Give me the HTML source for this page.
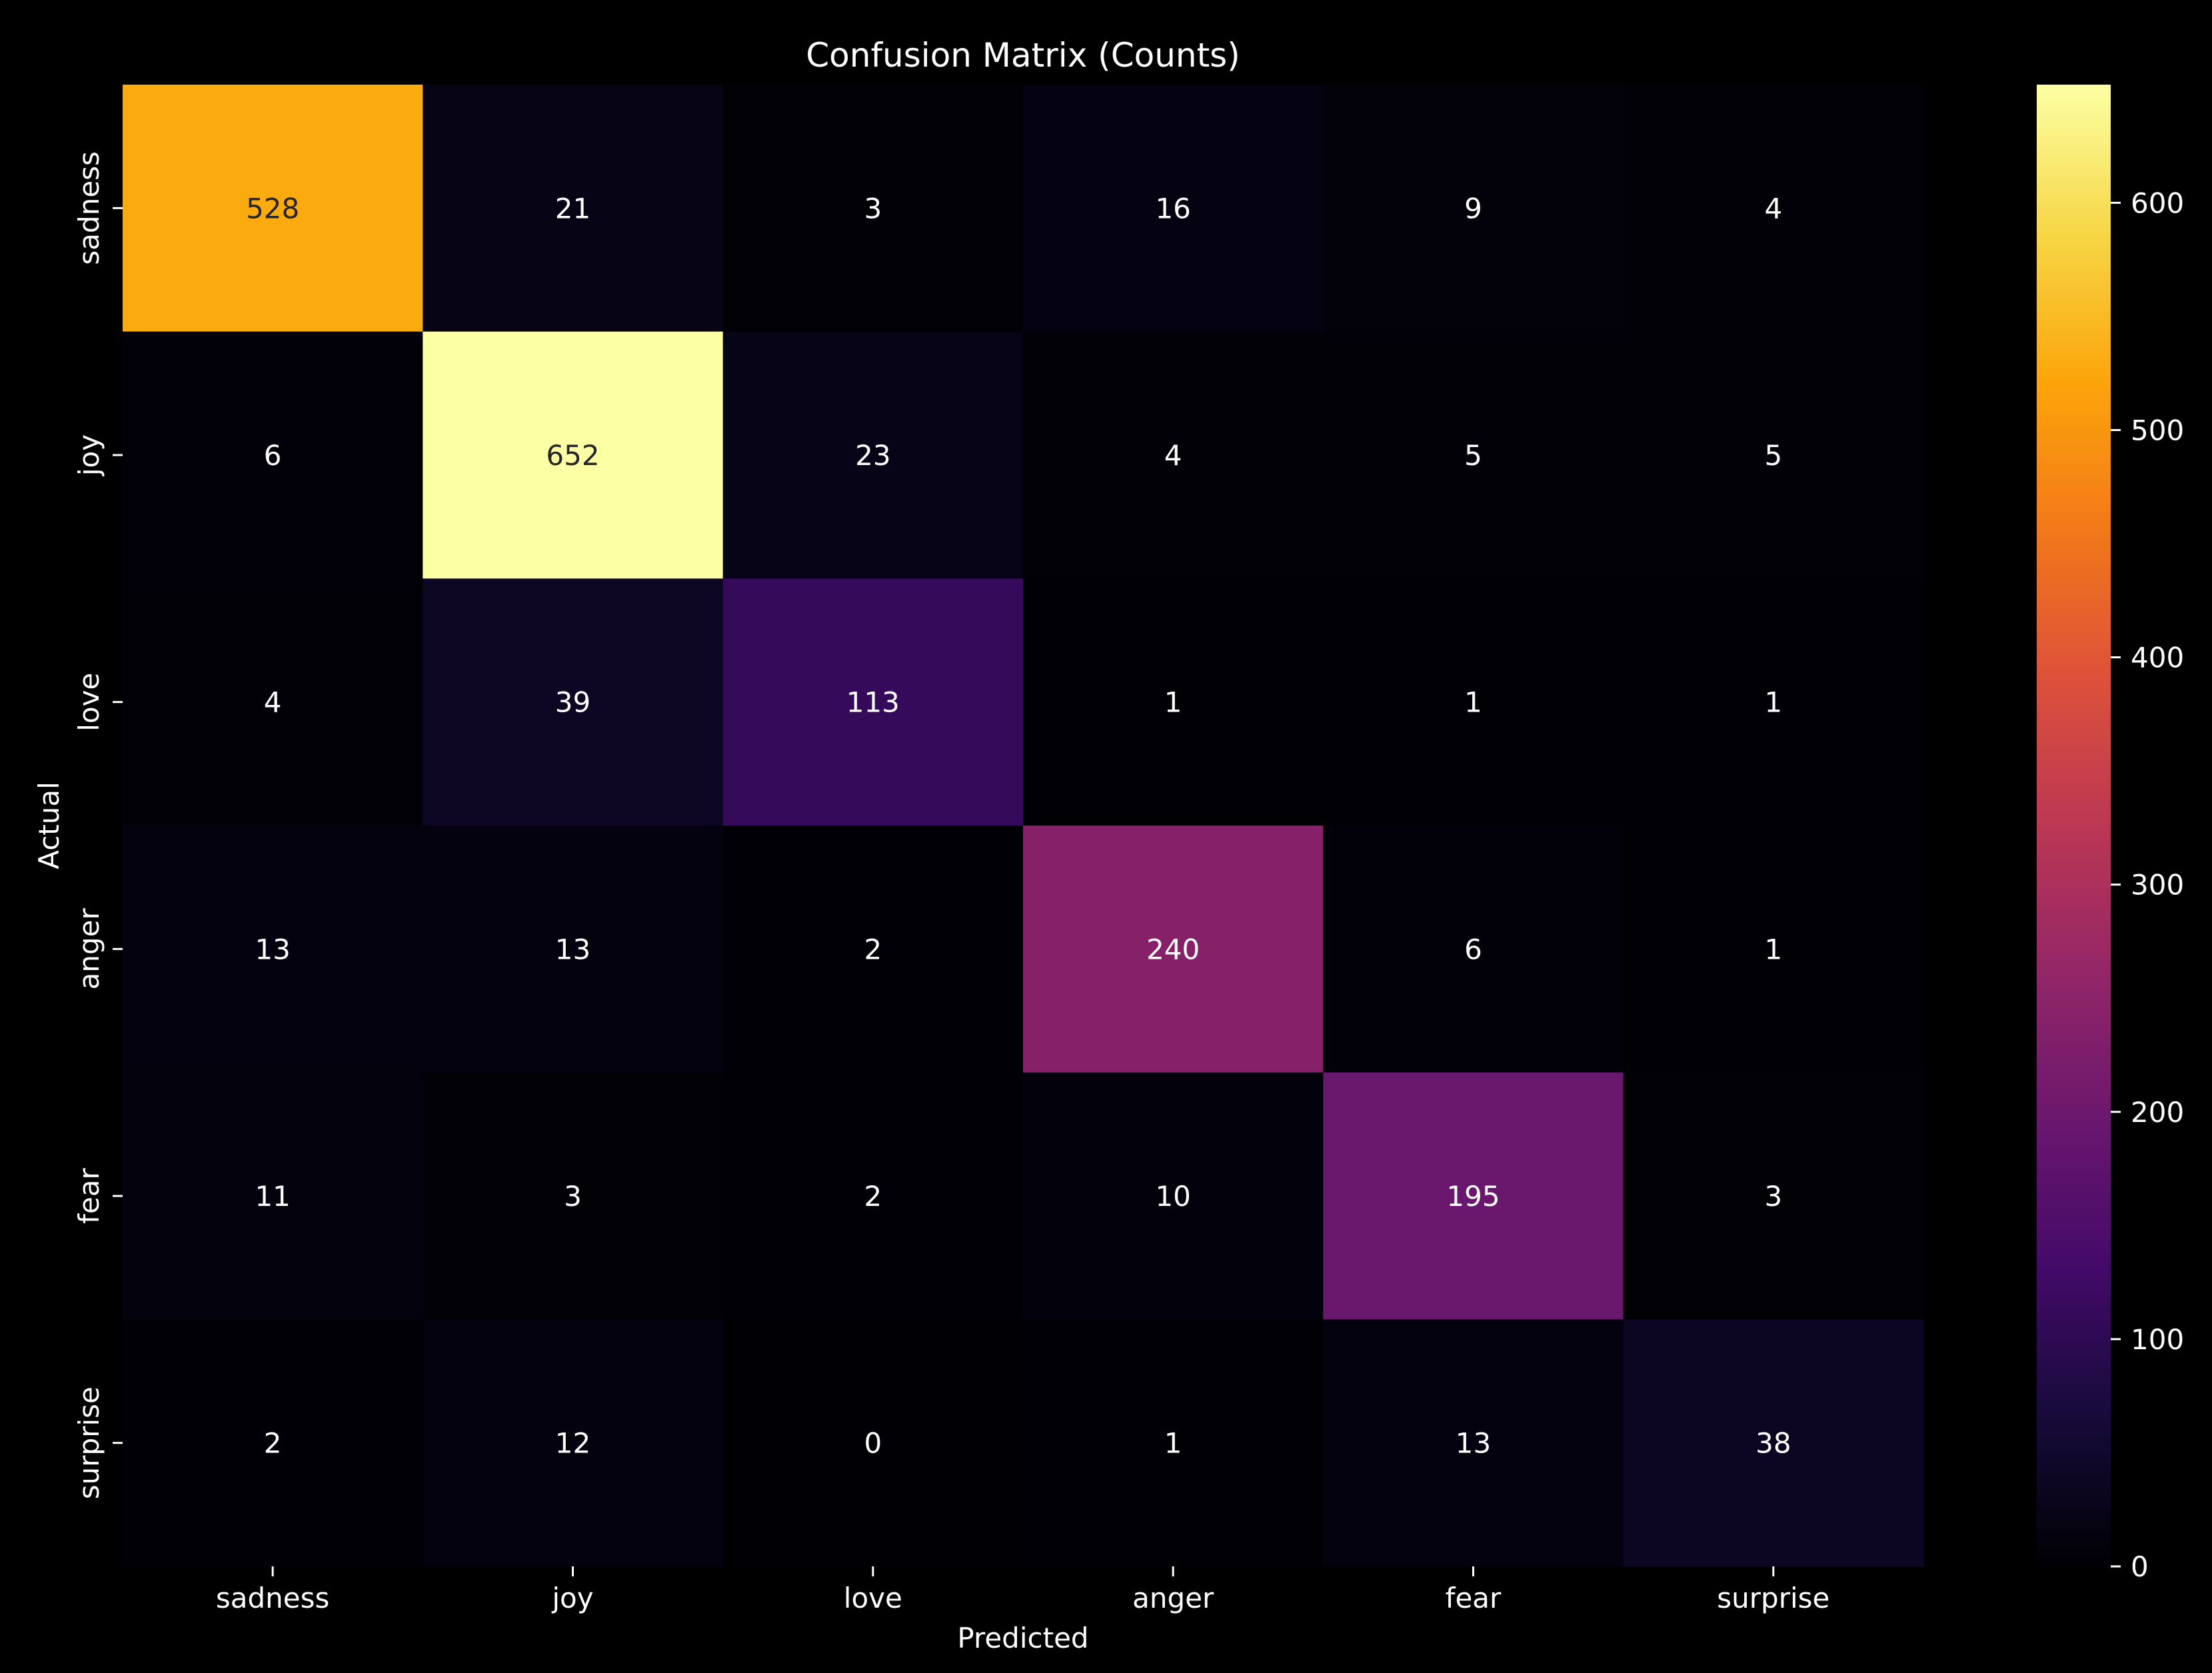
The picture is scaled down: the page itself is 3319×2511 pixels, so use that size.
<!DOCTYPE html>
<html><head><meta charset="utf-8"><style>
html,body{margin:0;padding:0;background:#000;}
svg{display:block;}
text{font-family:"DejaVu Sans","Liberation Sans",sans-serif;}
</style></head><body>
<svg id="chart" width="3319" height="2511" viewBox="0 0 3319 2511" xmlns="http://www.w3.org/2000/svg">
<rect width="3319" height="2511" fill="#000"/>
<defs>
<linearGradient id="cbar" x1="0" y1="1" x2="0" y2="0">
<stop offset="0" stop-color="#000004"/><stop offset="0.1" stop-color="#160b39"/><stop offset="0.2" stop-color="#420a68"/><stop offset="0.3" stop-color="#6a176e"/><stop offset="0.4" stop-color="#932667"/><stop offset="0.5" stop-color="#bc3754"/><stop offset="0.6" stop-color="#dd513a"/><stop offset="0.7" stop-color="#f37819"/><stop offset="0.8" stop-color="#fca50a"/><stop offset="0.9" stop-color="#f6d746"/><stop offset="1" stop-color="#fcffa4"/>
</linearGradient>
</defs>
<g id="cells"></g>
<g id="axes"></g>
<text x="1535" y="100" font-size="50" fill="#fff" text-anchor="middle">Confusion Matrix (Counts)</text>
<text x="1535" y="2473" font-size="42" fill="#fff" text-anchor="middle">Predicted</text>
<text transform="translate(88,1239) rotate(-90)" font-size="42" fill="#fff" text-anchor="middle">Actual</text>
<rect x="3056" y="127" width="111" height="2224" fill="url(#cbar)"/>
<g id="cbticks"></g>
</svg>
<script>
const categories = ["sadness","joy","love","anger","fear","surprise"];
const row_sadness = [528,21,3,16,9,4];
const row_joy = [6,652,23,4,5,5];
const row_love = [4,39,113,1,1,1];
const row_anger = [13,13,2,240,6,1];
const row_fear = [11,3,2,10,195,3];
const row_surprise = [2,12,0,1,13,38];
const colorbarTicks = [0,100,200,300,400,500,600];

const rows = [row_sadness,row_joy,row_love,row_anger,row_fear,row_surprise];
const NS = "http://www.w3.org/2000/svg";
const L=184,R=2886,T=127,B=2351;
const n=categories.length, cw=(R-L)/n, ch=(B-T)/n;
let vmax=0; rows.forEach(r=>r.forEach(v=>{if(v>vmax)vmax=v;}));
const vmin=0;
const stops=["#000004","#160b39","#420a68","#6a176e","#932667","#bc3754","#dd513a","#f37819","#fca50a","#f6d746","#fcffa4"].map(h=>[parseInt(h.substr(1,2),16),parseInt(h.substr(3,2),16),parseInt(h.substr(5,2),16)]);
function cmap(t){t=Math.max(0,Math.min(1,t));const p=t*10,i=Math.min(9,Math.floor(p)),f=p-i;const a=stops[i],b=stops[i+1];return [0,1,2].map(k=>Math.round(a[k]+(b[k]-a[k])*f));}
function lum(c){const l=c.map(v=>{v/=255;return v<=0.03928?v/12.92:Math.pow((v+0.055)/1.055,2.4);});return 0.2126*l[0]+0.7152*l[1]+0.0722*l[2];}
const xs=i=>L+i*cw, ys=j=>T+j*ch;
const cells=document.getElementById('cells');
rows.forEach((r,j)=>r.forEach((v,i)=>{
  const c=cmap((v-vmin)/(vmax-vmin));
  const rect=document.createElementNS(NS,'rect');
  rect.setAttribute('x',xs(i));rect.setAttribute('y',ys(j));rect.setAttribute('width',cw+0.5);rect.setAttribute('height',ch+0.5);
  rect.setAttribute('fill',`rgb(${c[0]},${c[1]},${c[2]})`);
  
  
  cells.appendChild(rect);
  const t=document.createElementNS(NS,'text');
  t.setAttribute('x',xs(i)+cw/2);t.setAttribute('y',ys(j)+ch/2+15);t.setAttribute('font-size','42');t.setAttribute('text-anchor','middle');
  t.setAttribute('fill',lum(c)>0.408?'#262626':'#ffffff');
  t.textContent=v;
  
  
  cells.appendChild(t);
}));
const axes=document.getElementById('axes');
categories.forEach((c,i)=>{
  const x=xs(i)+cw/2;
  const tk=document.createElementNS(NS,'line');
  tk.setAttribute('x1',x);tk.setAttribute('x2',x);tk.setAttribute('y1',B);tk.setAttribute('y2',B+15);tk.setAttribute('stroke','#fff');tk.setAttribute('stroke-width','3');
  
  
  axes.appendChild(tk);
  const t=document.createElementNS(NS,'text');
  t.setAttribute('x',x);t.setAttribute('y',2413);t.setAttribute('font-size','42');t.setAttribute('fill','#fff');t.setAttribute('text-anchor','middle');
  t.textContent=c;
  
  
  axes.appendChild(t);
  const y=ys(i)+ch/2;
  const tk2=document.createElementNS(NS,'line');
  tk2.setAttribute('x1',L-15);tk2.setAttribute('x2',L);tk2.setAttribute('y1',y);tk2.setAttribute('y2',y);tk2.setAttribute('stroke','#fff');tk2.setAttribute('stroke-width','3');
  
  
  axes.appendChild(tk2);
  const t2=document.createElementNS(NS,'text');
  t2.setAttribute('transform',`translate(148,${y}) rotate(-90)`);t2.setAttribute('font-size','42');t2.setAttribute('fill','#fff');t2.setAttribute('text-anchor','middle');
  t2.textContent=c;
  
  
  axes.appendChild(t2);
});
const cb=document.getElementById('cbticks');
const cy=v=>B-(v-vmin)/(vmax-vmin)*(B-T);
colorbarTicks.forEach(v=>{
  const y=cy(v);
  const tk=document.createElementNS(NS,'line');
  tk.setAttribute('x1',3167);tk.setAttribute('x2',3182);tk.setAttribute('y1',y);tk.setAttribute('y2',y);tk.setAttribute('stroke','#fff');tk.setAttribute('stroke-width','3');
  
  
  cb.appendChild(tk);
  const t=document.createElementNS(NS,'text');
  t.setAttribute('x',3197);t.setAttribute('y',y+15);t.setAttribute('font-size','42');t.setAttribute('fill','#fff');
  t.textContent=v;
  
  
  cb.appendChild(t);
});
</script>
</body></html>
